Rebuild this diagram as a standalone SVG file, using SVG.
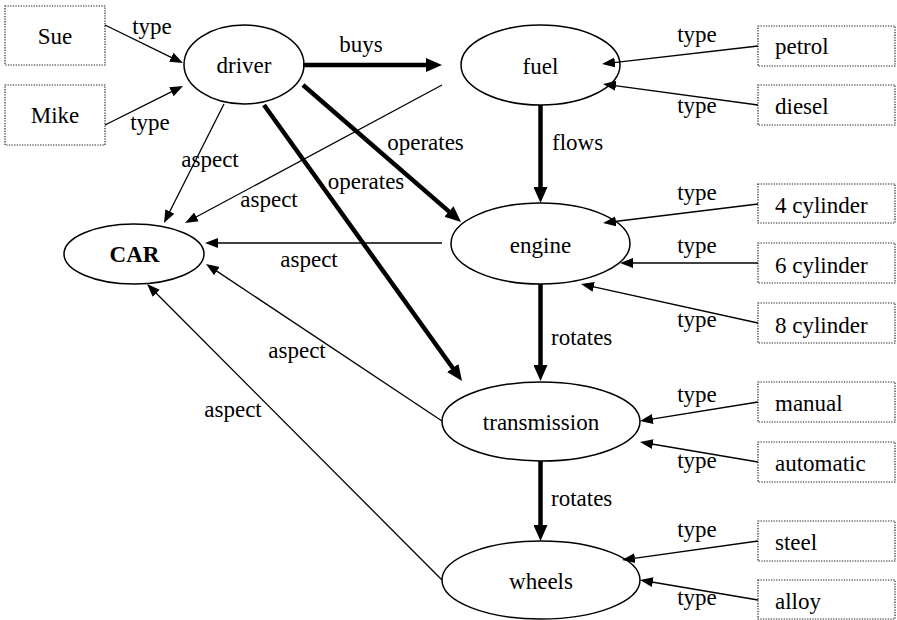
<svg xmlns="http://www.w3.org/2000/svg" width="897" height="620" viewBox="0 0 897 620" font-family="'Liberation Serif', 'Times New Roman', 'DejaVu Serif', serif">
<style>
text{font-family:"Liberation Serif","Times New Roman","DejaVu Serif",serif;font-size:23px;fill:#000}
.c{text-anchor:middle}
.b{font-weight:bold}
.node ellipse{fill:#fff;stroke:#000;stroke-width:1.5}
.box rect{fill:#fff;stroke:#222;stroke-width:1.2;stroke-dasharray:1.3 1.3}
.thin{stroke:#000;stroke-width:1.3;fill:none;marker-end:url(#ah)}
.thick{stroke:#000;stroke-width:4.5;fill:none;marker-end:url(#ahb)}
</style>
<defs>
<marker id="ah" markerUnits="userSpaceOnUse" markerWidth="14" markerHeight="12" refX="1" refY="5" orient="auto" viewBox="0 0 14 10">
<path d="M0,0 L13,5 L0,10 z" fill="#000"/>
</marker>
<marker id="ahb" markerUnits="userSpaceOnUse" markerWidth="17" markerHeight="14" refX="1" refY="7" orient="auto" viewBox="0 0 17 14">
<path d="M0,0 L16,7 L0,14 z" fill="#000"/>
</marker>
</defs>
<rect width="897" height="620" fill="#fff"/>
<g id="sue" class="box"><rect x="5" y="6" width="100" height="59"/><text class="c" x="55" y="43.5">Sue</text></g>
<g id="mike" class="box"><rect x="5" y="85" width="100" height="60"/><text class="c" x="55" y="123">Mike</text></g>
<g id="driver" class="node"><ellipse cx="244" cy="64.5" rx="60" ry="39.5"/><text class="c" x="244" y="73">driver</text></g>
<g id="fuel" class="node"><ellipse cx="540.5" cy="65" rx="79.5" ry="40"/><text class="c" x="540.5" y="73.5">fuel</text></g>
<g id="car" class="node"><ellipse cx="134" cy="254" rx="70" ry="30"/><text class="c b" x="134.5" y="262">CAR</text></g>
<g id="engine" class="node"><ellipse cx="540.5" cy="243.5" rx="89.5" ry="40.5"/><text class="c" x="540.5" y="252.5">engine</text></g>
<g id="transmission" class="node"><ellipse cx="541" cy="421.5" rx="99" ry="39.5"/><text class="c" x="541" y="430">transmission</text></g>
<g id="wheels" class="node"><ellipse cx="541" cy="580" rx="99" ry="39"/><text class="c" x="541" y="588.5">wheels</text></g>
<g id="petrol" class="box"><rect x="758" y="26" width="137" height="40"/><text x="775" y="54">petrol</text></g>
<g id="diesel" class="box"><rect x="758" y="85" width="137" height="40"/><text x="775" y="114">diesel</text></g>
<g id="cyl4" class="box"><rect x="758" y="184" width="137" height="39"/><text x="775" y="213">4 cylinder</text></g>
<g id="cyl6" class="box"><rect x="758" y="243" width="137" height="40"/><text x="775" y="273">6 cylinder</text></g>
<g id="cyl8" class="box"><rect x="758" y="303" width="137" height="40"/><text x="775" y="333">8 cylinder</text></g>
<g id="manual" class="box"><rect x="758" y="382" width="137" height="40"/><text x="775" y="411">manual</text></g>
<g id="automatic" class="box"><rect x="758" y="442" width="137" height="40"/><text x="775" y="471">automatic</text></g>
<g id="steel" class="box"><rect x="758" y="521" width="137" height="40"/><text x="775" y="550">steel</text></g>
<g id="alloy" class="box"><rect x="758" y="580" width="137" height="39"/><text x="775" y="609">alloy</text></g>
<g id="connectors">
<line class="thin" x1="105" y1="25" x2="172.2" y2="57.8"/>
<line class="thin" x1="105" y1="125" x2="172.3" y2="91.4"/>
<line class="thick" x1="303" y1="65" x2="427" y2="65"/>
<line class="thin" x1="224" y1="104" x2="169.4" y2="212.3"/>
<line class="thin" x1="442" y1="85" x2="195.6" y2="217.3"/>
<line class="thin" x1="442" y1="243" x2="217" y2="243"/>
<line class="thin" x1="442" y1="421" x2="216" y2="270.6"/>
<line class="thin" x1="442" y1="580" x2="155.5" y2="292.5"/>
<line class="thick" x1="303" y1="85" x2="449.7" y2="212.1"/>
<line class="thick" x1="264" y1="105" x2="453.3" y2="368.8"/>
<line class="thick" x1="540.5" y1="105" x2="540.5" y2="188"/>
<line class="thick" x1="540.5" y1="284" x2="540.5" y2="366"/>
<line class="thick" x1="540.5" y1="461" x2="540.5" y2="526"/>
<line class="thin" x1="758" y1="46" x2="613.9" y2="62.6"/>
<line class="thin" x1="758" y1="105" x2="614.9" y2="85.6"/>
<line class="thin" x1="758" y1="204" x2="614.9" y2="221.5"/>
<line class="thin" x1="758" y1="263" x2="632" y2="263"/>
<line class="thin" x1="758" y1="323" x2="592.7" y2="286.6"/>
<line class="thin" x1="758" y1="402" x2="651.8" y2="419.1"/>
<line class="thin" x1="758" y1="462" x2="651.8" y2="444"/>
<line class="thin" x1="758" y1="541" x2="633.9" y2="558.3"/>
<line class="thin" x1="758" y1="600" x2="651.8" y2="582"/>
<text class="c" x="152" y="34">type</text>
<text class="c" x="150" y="130">type</text>
<text class="c" x="361" y="52">buys</text>
<text class="c" x="210" y="167">aspect</text>
<text class="c" x="269" y="207">aspect</text>
<text class="c" x="309" y="267">aspect</text>
<text class="c" x="297" y="358">aspect</text>
<text class="c" x="233" y="417">aspect</text>
<text class="c" x="425.5" y="150">operates</text>
<text class="c" x="366" y="189">operates</text>
<text x="552" y="150">flows</text>
<text x="551" y="345">rotates</text>
<text x="551" y="506">rotates</text>
<text class="c" x="697" y="42">type</text>
<text class="c" x="697" y="113">type</text>
<text class="c" x="697" y="200">type</text>
<text class="c" x="697" y="253">type</text>
<text class="c" x="697" y="327">type</text>
<text class="c" x="697" y="402">type</text>
<text class="c" x="697" y="468">type</text>
<text class="c" x="697" y="537">type</text>
<text class="c" x="697" y="605">type</text>
</g>
</svg>
